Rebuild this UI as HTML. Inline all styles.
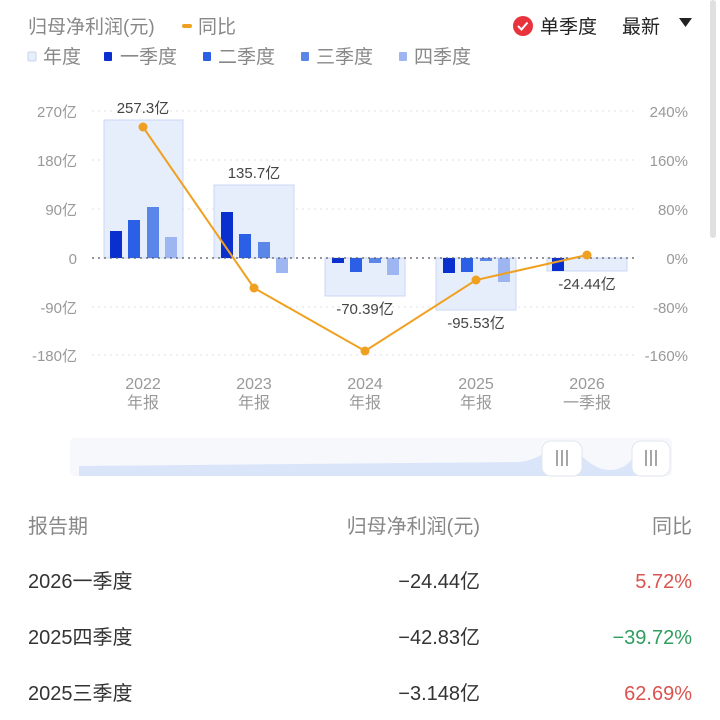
<!DOCTYPE html>
<html><head><meta charset="utf-8"><style>
html,body{margin:0;padding:0;background:#fff;}
svg{display:block;font-family:"Liberation Sans","Noto Sans CJK SC",sans-serif;}
</style></head><body>
<svg width="720" height="720" viewBox="0 0 720 720" xmlns="http://www.w3.org/2000/svg">
<rect x="710" y="0" width="6" height="238" rx="3" fill="#e0e0e0"/>
<text x="28" y="33" font-size="19" fill="#888">归母净利润(元)</text>
<rect x="182" y="24" width="10" height="4" rx="2" fill="#f0a020"/>
<text x="198" y="33" font-size="19" fill="#888">同比</text>
<circle cx="523" cy="26" r="10" fill="#e8323c"/>
<path d="M518 26 l3.5 3.5 l6 -7" stroke="#fff" stroke-width="2" fill="none"/>
<text x="540" y="33" font-size="19" fill="#222">单季度</text>
<text x="622" y="33" font-size="19" fill="#222">最新</text>
<path d="M679 18 h13 l-6.5 9 z" fill="#222"/>
<g font-size="19" fill="#888">
<rect x="28" y="52" width="8" height="9" rx="1" fill="#e6eefc" stroke="#c7d4ee"/><text x="43" y="63">年度</text>
<rect x="104" y="52" width="8" height="9" rx="1" fill="#0a2fcf"/><text x="120" y="63">一季度</text>
<rect x="203" y="52" width="8" height="9" rx="1" fill="#2a5fe6"/><text x="218" y="63">二季度</text>
<rect x="301" y="52" width="8" height="9" rx="1" fill="#5a86e8"/><text x="316" y="63">三季度</text>
<rect x="399" y="52" width="8" height="9" rx="1" fill="#9db5f0"/><text x="414" y="63">四季度</text>
</g>
<g stroke="#dde0e6" stroke-dasharray="2,4" stroke-width="1">
<line x1="92" y1="111" x2="636" y2="111"/><line x1="92" y1="160" x2="636" y2="160"/>
<line x1="92" y1="209" x2="636" y2="209"/><line x1="92" y1="307" x2="636" y2="307"/>
<line x1="92" y1="355" x2="636" y2="355"/>
</g>
<g font-size="15" fill="#999" text-anchor="end">
<text x="77" y="117">270亿</text><text x="77" y="166">180亿</text><text x="77" y="215">90亿</text>
<text x="77" y="264">0</text><text x="77" y="313">-90亿</text><text x="77" y="361">-180亿</text>
</g>
<g font-size="15" fill="#999" text-anchor="end">
<text x="688" y="117">240%</text><text x="688" y="166">160%</text><text x="688" y="215">80%</text>
<text x="688" y="264">0%</text><text x="688" y="313">-80%</text><text x="688" y="361">-160%</text>
</g>
<g fill="#e6eefc" stroke="#c9d7f3" stroke-width="1">
<rect x="104" y="120" width="79" height="138"/>
<rect x="214" y="185" width="80" height="73"/>
<rect x="325" y="258" width="80" height="38"/>
<rect x="436" y="258" width="80" height="52"/>
<rect x="547" y="258" width="80" height="13"/>
</g>
<g>
<rect x="110" y="231" width="12" height="27" fill="#0a2fcf"/>
<rect x="128" y="220" width="12" height="38" fill="#2a5fe6"/>
<rect x="147" y="207" width="12" height="51" fill="#5a86e8"/>
<rect x="165" y="237" width="12" height="21" fill="#9db5f0"/>
<rect x="221" y="212" width="12" height="46" fill="#0a2fcf"/>
<rect x="239" y="234" width="12" height="24" fill="#2a5fe6"/>
<rect x="258" y="242" width="12" height="16" fill="#5a86e8"/>
<rect x="276" y="258" width="12" height="15" fill="#9db5f0"/>
<rect x="332" y="258" width="12" height="5" fill="#0a2fcf"/>
<rect x="350" y="258" width="12" height="14" fill="#2a5fe6"/>
<rect x="369" y="258" width="12" height="5" fill="#5a86e8"/>
<rect x="387" y="258" width="12" height="17" fill="#9db5f0"/>
<rect x="443" y="258" width="12" height="15" fill="#0a2fcf"/>
<rect x="461" y="258" width="12" height="14" fill="#2a5fe6"/>
<rect x="480" y="258" width="12" height="3" fill="#5a86e8"/>
<rect x="498" y="258" width="12" height="24" fill="#9db5f0"/>
<rect x="552" y="258" width="12" height="13" fill="#0a2fcf"/>
</g>
<line x1="92" y1="258" x2="636" y2="258" stroke="#556" stroke-dasharray="2,4" stroke-width="1.3"/>
<polyline points="143,127 254,288 365,351 476,280 587,255" fill="none" stroke="#f0a020" stroke-width="2"/>
<g fill="#f0a020"><circle cx="143" cy="127" r="4.5"/><circle cx="254" cy="288" r="4.5"/><circle cx="365" cy="351" r="4.5"/><circle cx="476" cy="280" r="4.5"/><circle cx="587" cy="255" r="4.5"/></g>
<g font-size="15" fill="#444" text-anchor="middle">
<text x="143" y="113">257.3亿</text><text x="254" y="178">135.7亿</text>
<text x="365" y="314">-70.39亿</text><text x="476" y="328">-95.53亿</text><text x="587" y="289">-24.44亿</text>
</g>
<g font-size="16" fill="#999" text-anchor="middle">
<text x="143" y="389">2022</text><text x="143" y="408">年报</text>
<text x="254" y="389">2023</text><text x="254" y="408">年报</text>
<text x="365" y="389">2024</text><text x="365" y="408">年报</text>
<text x="476" y="389">2025</text><text x="476" y="408">年报</text>
<text x="587" y="389">2026</text><text x="587" y="408">一季报</text>
</g>
<rect x="70" y="438" width="602" height="38" rx="4" fill="#f6f8fc"/>
<path d="M79 466 L520 462 Q545 458 555 442 L570 442 Q590 470 610 470 Q630 470 640 445 L660 445 L660 476 L79 476 Z" fill="#dbe5fa"/>
<rect x="542" y="441" width="40" height="35" rx="9" fill="#fff" stroke="#e2e6ee"/>
<rect x="632" y="441" width="38" height="35" rx="9" fill="#fff" stroke="#e2e6ee"/>
<g stroke="#888" stroke-width="1.5">
<line x1="557" y1="450" x2="557" y2="466"/><line x1="562" y1="450" x2="562" y2="466"/><line x1="567" y1="450" x2="567" y2="466"/>
<line x1="646" y1="450" x2="646" y2="466"/><line x1="651" y1="450" x2="651" y2="466"/><line x1="656" y1="450" x2="656" y2="466"/>
</g>
<g font-size="20">
<text x="28" y="533" fill="#888">报告期</text>
<text x="480" y="533" fill="#888" text-anchor="end">归母净利润(元)</text>
<text x="692" y="533" fill="#888" text-anchor="end">同比</text>
<text x="28" y="588" fill="#333">2026一季度</text>
<text x="480" y="588" fill="#333" text-anchor="end">−24.44亿</text>
<text x="692" y="588" fill="#d9534f" text-anchor="end">5.72%</text>
<text x="28" y="644" fill="#333">2025四季度</text>
<text x="480" y="644" fill="#333" text-anchor="end">−42.83亿</text>
<text x="692" y="644" fill="#2e9e5e" text-anchor="end">−39.72%</text>
<text x="28" y="700" fill="#333">2025三季度</text>
<text x="480" y="700" fill="#333" text-anchor="end">−3.148亿</text>
<text x="692" y="700" fill="#d9534f" text-anchor="end">62.69%</text>
</g>
</svg>
</body></html>
